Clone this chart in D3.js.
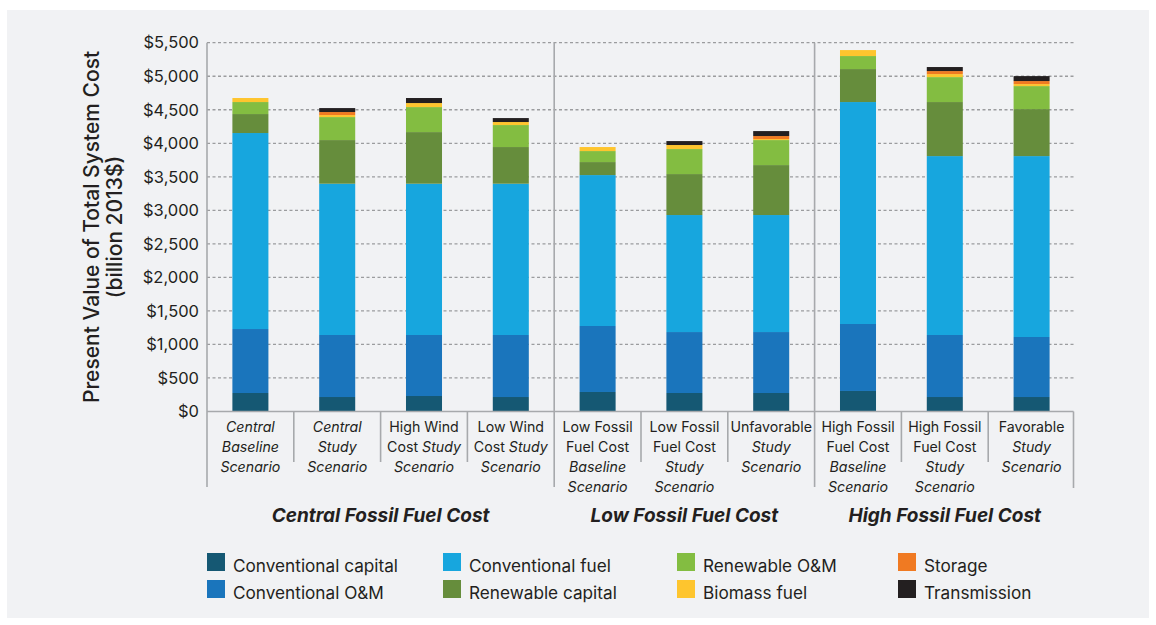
<!DOCTYPE html>
<html>
<head>
<meta charset="utf-8">
<script src="https://cdn.jsdelivr.net/npm/d3@7"></script>
<style>
  body { margin: 0; background: #ffffff; }
  text { font-family: Inter, "Open Sans", sans-serif; fill: #231f20; }
</style>
</head>
<body>
<svg id="chart" width="1156" height="625"></svg>
<script>
// Scenario columns, in drawing order
const scenarios = [
  "Central Baseline", "Central Study", "High Wind Cost Study", "Low Wind Cost Study",
  "Low Fossil Baseline", "Low Fossil Study", "Unfavorable Study",
  "High Fossil Baseline", "High Fossil Study", "Favorable Study"
];
// Axis labels; *...* marks italic runs, | separates lines
const scenarioLabels = [
  "*Central*|*Baseline*|*Scenario*",
  "*Central*|*Study*|*Scenario*",
  "High Wind|Cost *Study*|*Scenario*",
  "Low Wind|Cost *Study*|*Scenario*",
  "Low Fossil|Fuel Cost|*Baseline*|*Scenario*",
  "Low Fossil|Fuel Cost|*Study*|*Scenario*",
  "Unfavorable|*Study*|*Scenario*",
  "High Fossil|Fuel Cost|*Baseline*|*Scenario*",
  "High Fossil|Fuel Cost|*Study*|*Scenario*",
  "Favorable|*Study*|*Scenario*"
];
const groupNames = ["Central Fossil Fuel Cost", "Low Fossil Fuel Cost", "High Fossil Fuel Cost"];
const groupSizes = [4, 3, 3];

// Cost components (billion 2013$)
const components = [
  "Conventional capital", "Conventional O&M", "Conventional fuel", "Renewable capital",
  "Renewable O&M", "Biomass fuel", "Storage", "Transmission"
];
const conventionalCapital = [276, 216, 231, 216, 291, 276, 276, 306, 216, 216];
const conventionalOM      = [954, 925, 910, 925, 984, 909, 909, 999, 925, 895];
const conventionalFuel    = [2923, 2256, 2256, 2256, 2251, 1745, 1745, 3310, 2668, 2698];
const renewableCapital    = [283, 651, 770, 547, 194, 611, 745, 492, 806, 701];
const renewableOM         = [179, 343, 373, 328, 164, 373, 373, 194, 372, 343];
const biomassFuel         = [60, 30, 60, 45, 60, 60, 15, 89, 45, 30];
const storage             = [0, 45, 0, 0, 0, 0, 45, 0, 45, 45];
const transmission        = [0, 59, 75, 59, 0, 59, 74, 0, 60, 74];

const yTicks = [0, 500, 1000, 1500, 2000, 2500, 3000, 3500, 4000, 4500, 5000, 5500];

const colors = ["#155873", "#1a75bc", "#17a6de", "#668d3c", "#83bd41", "#fec52e", "#f07a22", "#231f20"];

const series = [conventionalCapital, conventionalOM, conventionalFuel, renewableCapital,
                renewableOM, biomassFuel, storage, transmission];
const rows = scenarios.map((s, i) => {
  const r = { scenario: s };
  components.forEach((c, k) => r[c] = series[k][i]);
  return r;
});

const svg = d3.select("#chart");
svg.append("rect").attr("x", 7).attr("y", 10).attr("width", 1142).attr("height", 608).attr("fill", "#f1f2f4");

const x = d3.scaleBand().domain(scenarios).range([207, 1075]).padding(0);
const y = d3.scaleLinear().domain([0, 5500]).range([411.5, 42.7]);
const color = d3.scaleOrdinal().domain(components).range(colors);
const barW = x.bandwidth() * 0.415;

// Gridlines
svg.append("g").selectAll("line").data(yTicks.filter(t => t > 0)).join("line")
  .attr("x1", 207).attr("x2", 1075)
  .attr("y1", d => y(d)).attr("y2", d => y(d))
  .attr("stroke", "#9b9c9e").attr("stroke-width", 1.3).attr("stroke-dasharray", "3,2.5");

// Y axis labels
const yAxis = d3.axisLeft(y).tickValues(yTicks).tickSize(0).tickPadding(8)
  .tickFormat(d => "$" + d3.format(",")(d));
const gy = svg.append("g").attr("transform", "translate(207,0)").call(yAxis);
gy.select(".domain").remove();
gy.selectAll("text").attr("font-size", 16.5).attr("fill", "#231f20")
  .style("font-family", "Inter, 'Open Sans', sans-serif");

// Stacked bars
const stacked = d3.stack().keys(components)(rows);
svg.append("g").selectAll("g").data(stacked).join("g")
  .attr("fill", d => color(d.key))
  .selectAll("rect").data(d => d).join("rect")
  .attr("x", d => x(d.data.scenario) + x.bandwidth() / 2 - barW / 2)
  .attr("width", barW)
  .attr("y", d => y(d[1]))
  .attr("height", d => Math.max(0, y(d[0]) - y(d[1])));

// Axis frame
const frame = svg.append("g").attr("stroke", "#a7a9ac").attr("fill", "none");
frame.append("line").attr("x1", 207).attr("x2", 1073.5).attr("y1", y(0)).attr("y2", y(0)).attr("stroke-width", 1.6);
let idx = 0;
const groupBounds = [];
groupSizes.forEach(n => { groupBounds.push([idx, idx + n]); idx += n; });
const boundaryX = i => i < scenarios.length ? x(scenarios[i]) : x(scenarios[i - 1]) + x.bandwidth();
groupBounds.forEach(([a, b]) => {
  // long divider at group start, from the top of the plot to below the labels
  frame.append("line").attr("x1", boundaryX(a)).attr("x2", boundaryX(a))
    .attr("y1", y(5500)).attr("y2", 487).attr("stroke-width", 1.6);
  for (let i = a + 1; i < b; i++) {
    frame.append("line").attr("x1", boundaryX(i)).attr("x2", boundaryX(i))
      .attr("y1", y(0)).attr("y2", 462).attr("stroke-width", 1.6);
  }
});
frame.append("line").attr("x1", boundaryX(scenarios.length) - 1.5).attr("x2", boundaryX(scenarios.length) - 1.5)
  .attr("y1", y(0)).attr("y2", 488).attr("stroke-width", 1.6);

// Scenario labels
scenarios.forEach((s, i) => {
  const lines = scenarioLabels[i].split("|");
  const cx = x(s) + x.bandwidth() / 2;
  const t = svg.append("text").attr("text-anchor", "middle").attr("font-size", 14.2)
    .attr("x", cx).attr("y", 432);
  lines.forEach((ln, li) => {
    const parts = ln.split("*");
    let first = true;
    parts.forEach((p, pi) => {
      if (p === "") return;
      const ts = t.append("tspan").text(p).attr("font-style", pi % 2 === 1 ? "italic" : "normal");
      if (first) { ts.attr("x", cx).attr("dy", li === 0 ? 0 : 20); first = false; }
    });
  });
});

// Group titles
groupBounds.forEach(([a, b], gi) => {
  svg.append("text").attr("text-anchor", "middle")
    .attr("x", (boundaryX(a) + boundaryX(b)) / 2).attr("y", 522)
    .attr("font-size", 19).attr("font-weight", 700).attr("font-style", "italic")
    .text(groupNames[gi]);
});

// Y axis title
const title = svg.append("text").attr("text-anchor", "middle").attr("font-size", 21)
  .attr("font-weight", 500)
  .attr("transform", "translate(99,227) rotate(-90)");
title.append("tspan").attr("x", 0).attr("dy", 0).text("Present Value of Total System Cost");
title.append("tspan").attr("x", 0).attr("dy", 23).text("(billion 2013$)");

// Legend, two rows filled column by column
const legendX = [207, 443, 677, 898];
const legendY = [553, 580];
components.forEach((c, k) => {
  const col = Math.floor(k / 2), row = k % 2;
  const g = svg.append("g").attr("transform", `translate(${legendX[col]},${legendY[row]})`);
  g.append("rect").attr("width", 18).attr("height", 18).attr("fill", colors[k]);
  g.append("text").attr("x", 26).attr("y", 18.5).attr("font-size", 17.2).text(c);
});
</script>
</body>
</html>
